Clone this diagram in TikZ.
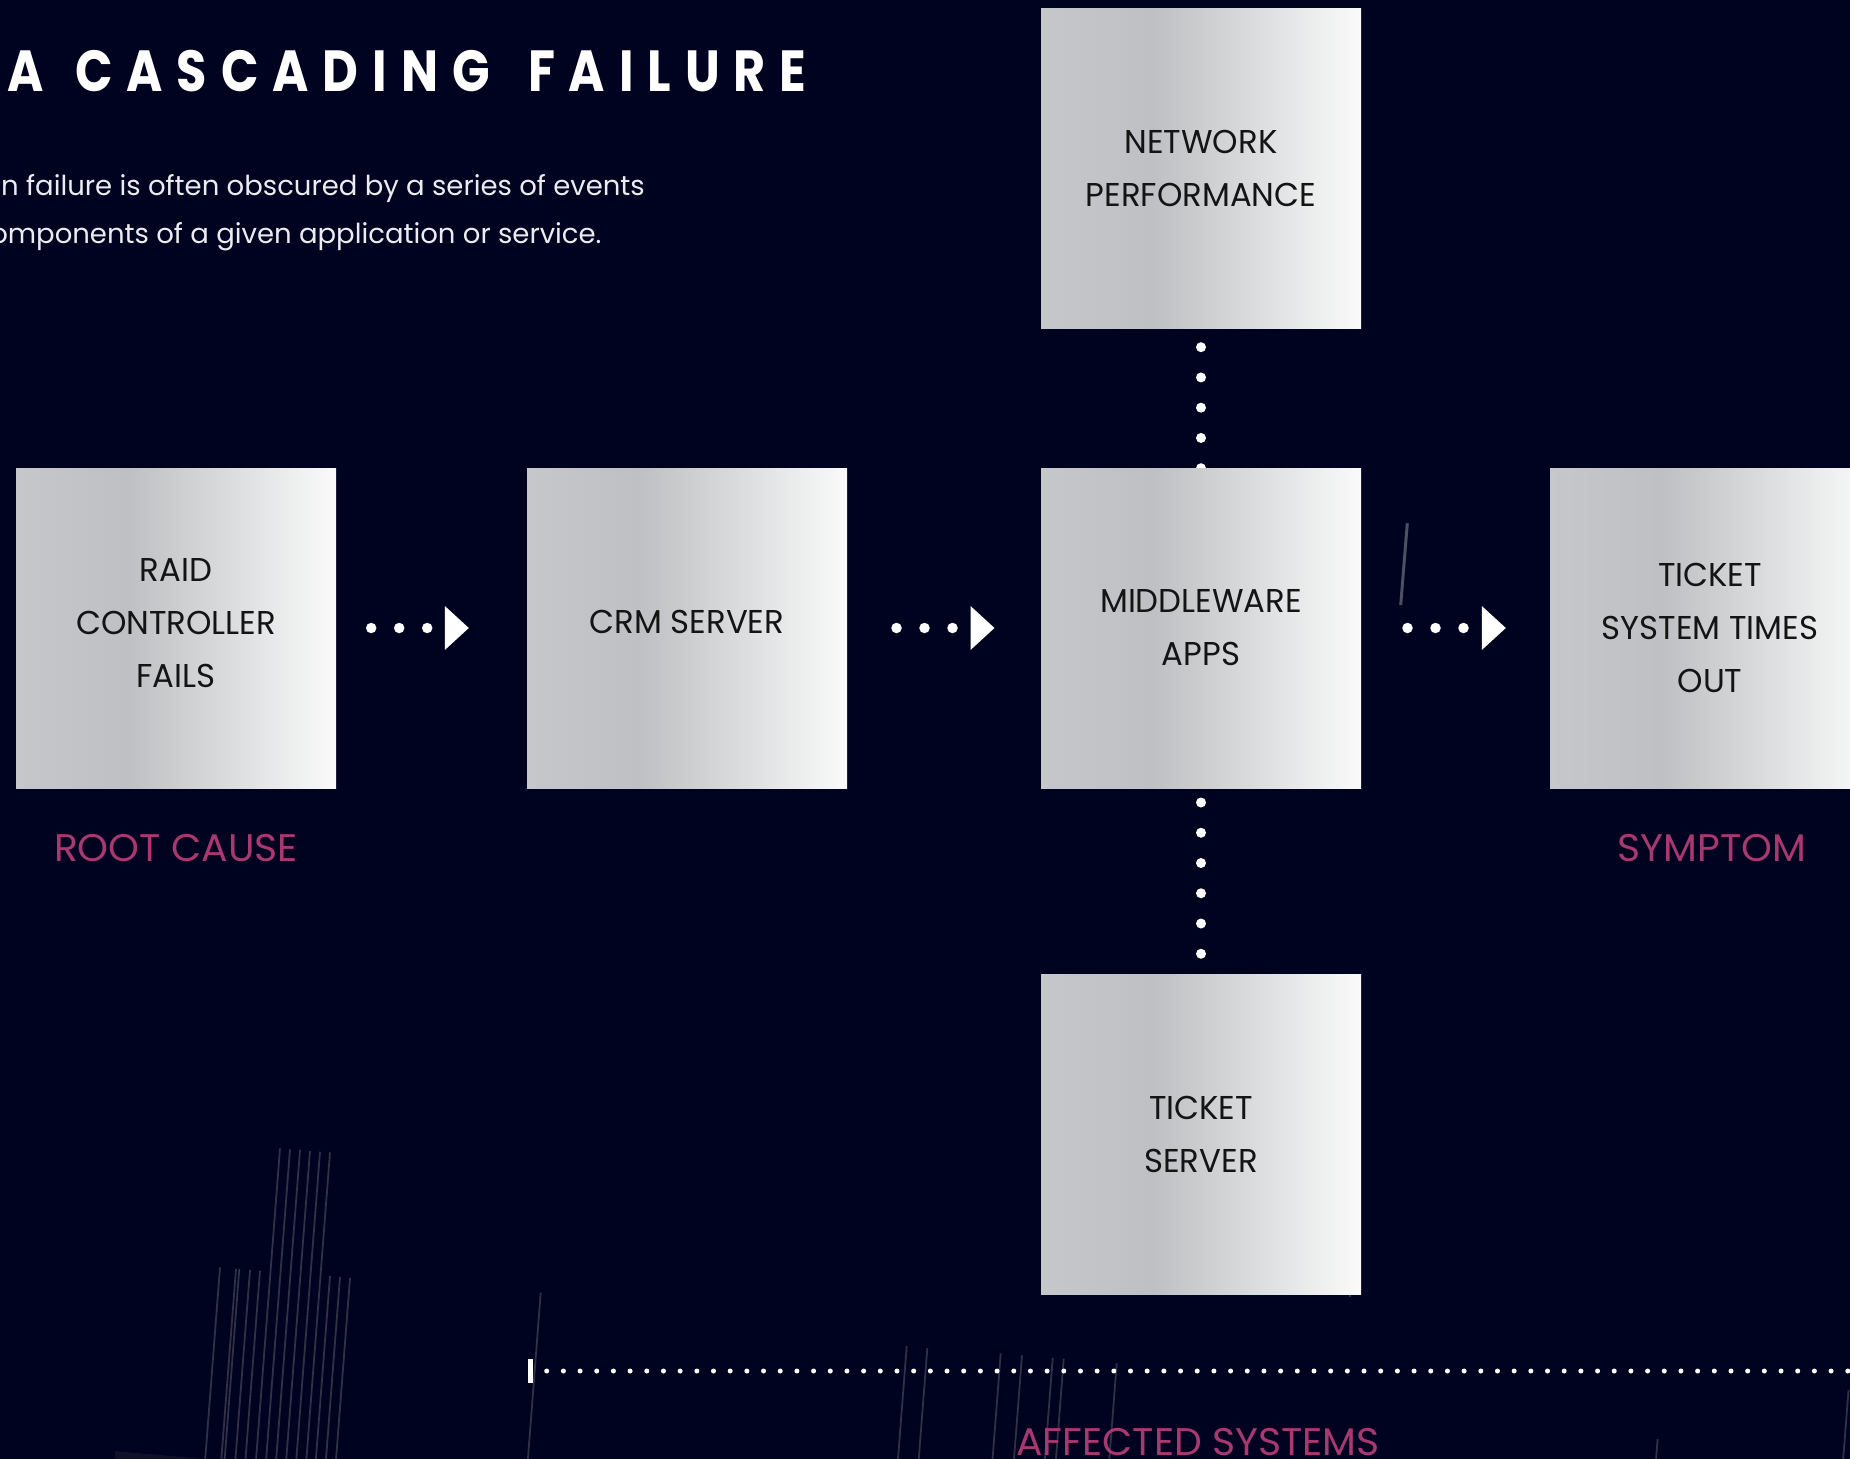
\documentclass[tikz,border=0pt]{standalone}
\usepackage{fontspec}
\setmainfont{Poppins}
\newfontfamily\boxfont{Poppins}[FakeStretch=0.98]
\newfontfamily\lblfont{Poppins}[FakeStretch=1.02]
\newfontfamily\titlefont{Poppins}[FakeStretch=0.85,LetterSpace=24]
\newfontfamily\bodyfont{Poppins}
\usetikzlibrary{arrows.meta}
\pgfdeclarelayer{bg}
\pgfsetlayers{bg,main}
\definecolor{bgc}{RGB}{0,3,32}
\definecolor{magc}{RGB}{168,56,112}
\definecolor{fline}{RGB}{48,48,70}
\definecolor{fhigh}{RGB}{78,78,100}
\definecolor{bodyc}{RGB}{236,236,240}
\definecolor{wedge}{RGB}{16,16,38}
\definecolor{ga}{RGB}{198,199,202}
\definecolor{gb}{RGB}{191,192,195}
\definecolor{gc}{RGB}{204,205,207}
\definecolor{gd}{RGB}{222,223,225}
\definecolor{ge}{RGB}{236,237,237}
\definecolor{gf}{RGB}{250,250,250}
\pgfdeclarehorizontalshading{boxgrad}{100bp}{color(0bp)=(ga); color(25bp)=(ga); color(42.5bp)=(gb); color(50bp)=(gc); color(60bp)=(gd); color(67.5bp)=(ge); color(75bp)=(gf); color(100bp)=(gf)}
\begin{document}
\begin{tikzpicture}[x=1pt,y=-1pt,
  box/.style={shade, shading=boxgrad, minimum width=320pt, minimum height=320pt, inner sep=0pt, align=center, text=black!92, font=\boxfont\fontsize{33}{53}\selectfont},
  lbl/.style={text=magc, inner sep=0pt, anchor=base, font=\lblfont\fontsize{38.5}{40}\selectfont},
  flow/.style={white, line width=10.5pt, line cap=round, dash pattern=on 0pt off 28pt, -{Triangle[length=24pt,width=44pt,line width=0pt]}},
  vdots/.style={white, line width=10pt, line cap=round, dash pattern=on 0pt off 30.25pt},
  faint/.style={line width=1.8pt, draw=fline},
  intro/.style={anchor=base east, inner sep=0pt, text=bodyc, font=\bodyfont\fontsize{27.5}{30}\selectfont},
]
\useasboundingbox (0,0) rectangle (1850,1459);
\clip (0,0) rectangle (1850,1459);

% boxes
\node[box, text depth=9.5pt] (raid) at (176,628) {RAID\\CONTROLLER\\FAILS};
\node[box, text depth=12pt] (crm) at (687,628) {CRM SERVER};
\node[box] (mid) at (1201,628) {MIDDLEWARE\\APPS};
\node[box] (tsys) at (1710,628) {TICKET\\SYSTEM TIMES\\OUT};
\node[box] (net) at (1201,168) {NETWORK\\PERFORMANCE};
\node[box] (tserv) at (1201,1134.5) {TICKET\\SERVER};

% labels
\node[lbl] (rc) at (176,861) {ROOT CAUSE};
\node[lbl] (sy) at (1712,861) {SYMPTOM};
\node[lbl] (af) at (1198,1455.3) {AFFECTED SYSTEMS};

% title and intro
\node[anchor=base west, inner sep=0pt, text=white, font=\titlefont\bfseries\fontsize{58}{60}\selectfont] (title) at (7,91.7) {A\hspace{7.3pt} CASCADING\hspace{14pt} FAILURE};
\node[intro] (l1) at (645,195) {n failure is often obscured by a series of events};
\node[intro] (l2) at (601.7,243.5) {omponents of a given application or service.};

\coordinate (tl) at (546.7,1371);
\coordinate (tr) at (1860,1371);

\begin{pgfonlayer}{bg}
  \fill[bgc] (0,0) rectangle (1850,1459);
  \fill[wedge] (115,1451) -- (205,1459) -- (115,1459) -- cycle;
  \foreach \x/\y in {220/1267.3, 236/1269, 239.3/1269, 250/1270, 260/1270.7,
      280/1148.3, 290/1149.3, 300/1150, 310/1151, 320/1151.7, 330/1152.3,
      330/1276, 340/1277, 350/1278, 540.7/1292.7,
      906.7/1346, 927.3/1348, 1000.7/1353.3, 1022/1355.3, 1052.7/1358, 1063.7/1358.7, 1116.7/1363.3,
      1657.6/1439, 1848.5/1390}
    \draw[faint] (\x,\y) -- ++({-0.077*(1465-\y)},{1465-\y});
  \draw[faint] (1350.8,1285) -- (1350,1297);
  \draw[line width=3pt, draw=fhigh] (1407.3,523.3) -- (1400.7,605);

  % connectors
  \draw[flow, shorten <=35pt, shorten >=58pt] (raid.east) -- (crm.west);
  \draw[flow, shorten <=49.3pt, shorten >=46.3pt] (crm.east) -- (mid.west);
  \draw[flow, shorten <=46.3pt, shorten >=44pt] (mid.east) -- (tsys.west);
  \draw[vdots, shorten <=19pt] (net.south) -- ([yshift=-6pt]mid.north);
  \draw[vdots, shorten <=14.3pt] (mid.south) -- (tserv.north);

  % affected-systems timeline
  \fill[white] (527.7,1359) rectangle (533.3,1383.3);
  \draw[white, line width=5pt, line cap=round, dash pattern=on 0pt off 16.68pt] (tl) -- (tr);
\end{pgfonlayer}
\end{tikzpicture}
\end{document}
